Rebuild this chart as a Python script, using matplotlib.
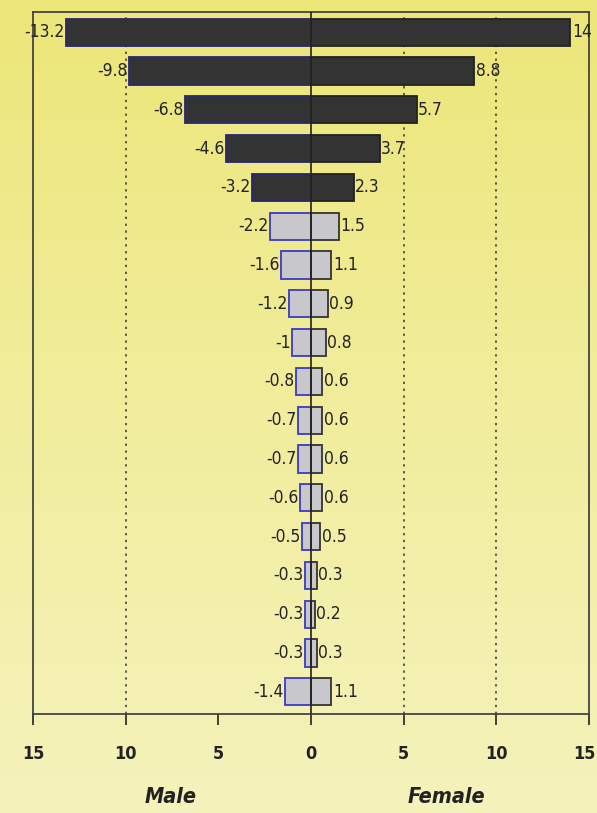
import numpy as np
import matplotlib
matplotlib.use("Agg")
import matplotlib.pyplot as plt
from matplotlib.colors import LinearSegmentedColormap
from matplotlib.transforms import ScaledTranslation

# Population shares (%) per group, top to bottom
male = [-13.2, -9.8, -6.8, -4.6, -3.2, -2.2, -1.6, -1.2, -1, -0.8, -0.7, -0.7, -0.6, -0.5, -0.3, -0.3, -0.3, -1.4]
female = [14, 8.8, 5.7, 3.7, 2.3, 1.5, 1.1, 0.9, 0.8, 0.6, 0.6, 0.6, 0.6, 0.5, 0.3, 0.2, 0.3, 1.1]
highlight = [True] * 5 + [False] * 13
xticks = [-15, -10, -5, 0, 5, 10, 15]
xticklabels = ["15", "10", "5", "0", "5", "10", "15"]
gridlines = [-10, 5, 10]

narrow = dict(family="DejaVu Sans", stretch="condensed")

fig = plt.figure(figsize=(5.97, 8.13), dpi=100)

# yellow gradient backdrop
bg = fig.add_axes([0, 0, 1, 1], zorder=-10)
grad = np.linspace(0, 1, 256).reshape(-1, 1)
cmap = LinearSegmentedColormap.from_list("bgy", ["#ece678", "#f1ed9c", "#f5f2bc"])
bg.imshow(grad, aspect="auto", cmap=cmap, extent=[0, 1, 0, 1], origin="upper")
bg.axis("off")

ax = fig.add_axes([33 / 597, 1 - 714 / 813, 556 / 597, 702 / 813])
ax.patch.set_alpha(0)

y = np.arange(len(male))
h = 0.7
for i in y:
    if highlight[i]:
        fc, ecm, ecf = "#333333", "#26267a", "#222222"
    else:
        fc, ecm, ecf = "#c8c8cc", "#3a3acc", "#333333"
    ax.barh(i, male[i], height=h, color=fc, edgecolor=ecm, linewidth=1.3, zorder=3)
    ax.barh(i, female[i], height=h, color=fc, edgecolor=ecf, linewidth=1.3, zorder=3)
    ax.text(male[i] - 0.08, i, f"{male[i]:g}", ha="right", va="center",
            fontsize=12.5, color="#222222", zorder=4, **narrow)
    ax.text(female[i] + 0.08, i, f"{female[i]:g}", ha="left", va="center",
            fontsize=12.5, color="#222222", zorder=4, **narrow)

for g in gridlines:
    ax.axvline(g, color="#333333", linestyle=(0, (1.5, 3)), linewidth=1.1, zorder=1)
ax.axvline(0, color="#222222", linewidth=1.2, zorder=5)

ax.set_xlim(-15, 15)
ax.set_ylim(17.57, -0.52)
ax.set_yticks([])
ax.set_xticks(xticks)
ax.set_xticklabels(xticklabels)
for lbl in ax.get_xticklabels():
    lbl.set_fontsize(13)
    lbl.set_fontweight("bold")
    lbl.set_fontstretch("condensed")
ax.tick_params(axis="x", direction="out", length=8, width=1.2, pad=14, colors="#222222")
# keep the outermost right label inside the canvas
last = ax.get_xticklabels()[-1]
last.set_transform(last.get_transform() + ScaledTranslation(-5 / 100, 0, fig.dpi_scale_trans))
for s in ax.spines.values():
    s.set_color("#444444")
    s.set_linewidth(1.3)

ax.text(-7.6, -0.118, "Male", transform=ax.get_xaxis_transform(), ha="center", va="center",
        fontsize=15.5, fontweight="bold", fontstyle="italic", color="#222222", **narrow)
ax.text(7.3, -0.118, "Female", transform=ax.get_xaxis_transform(), ha="center", va="center",
        fontsize=15.5, fontweight="bold", fontstyle="italic", color="#222222", **narrow)

fig.savefig("out.png", dpi=100)
